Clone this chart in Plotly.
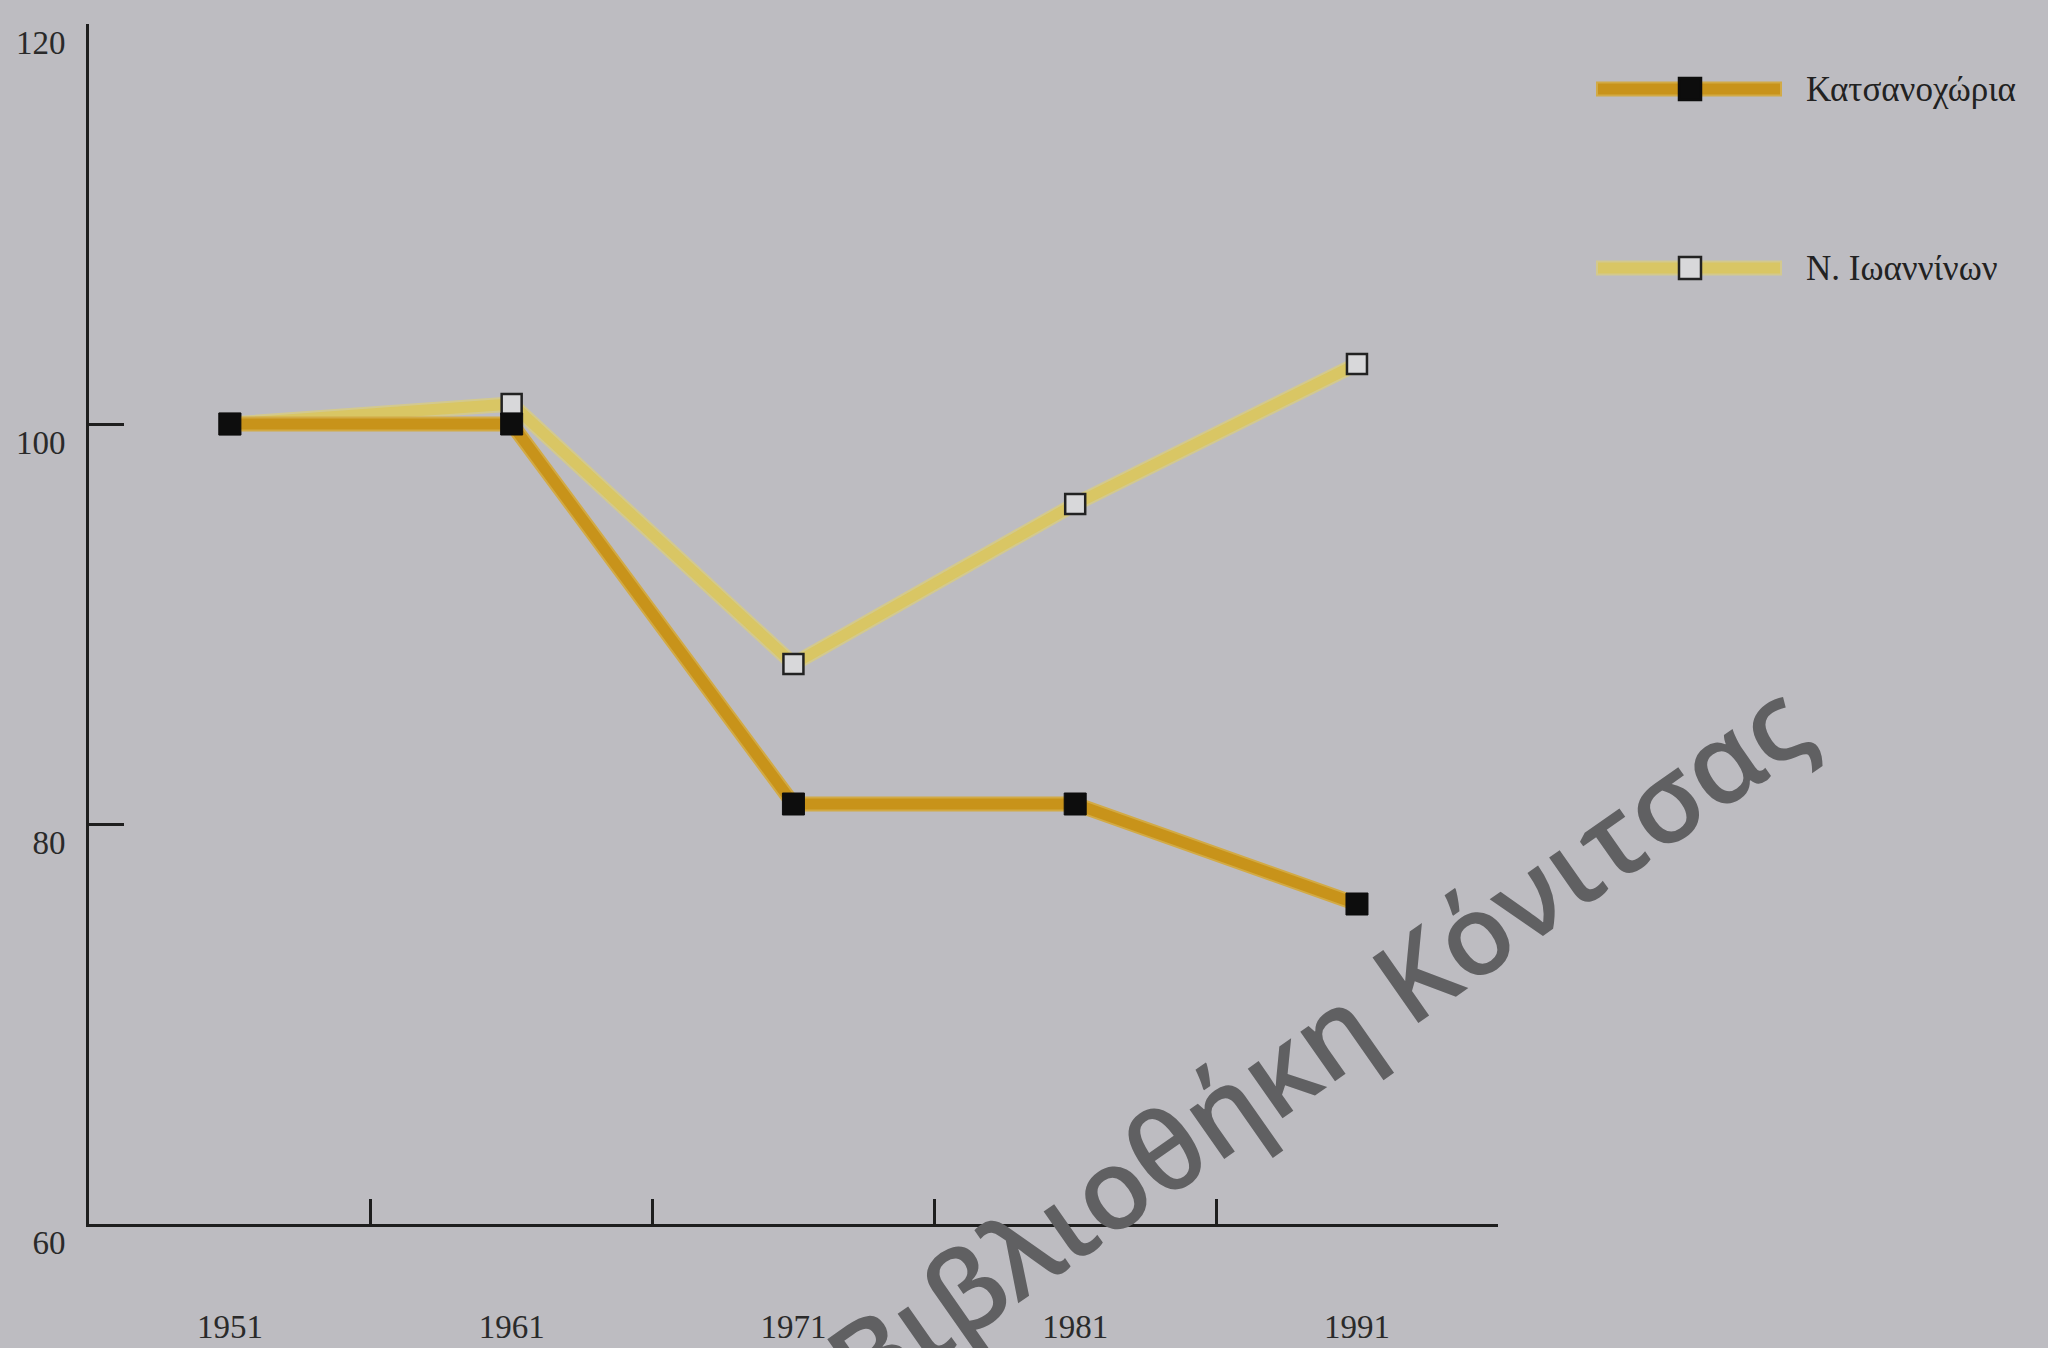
import plotly.graph_objects as go

years = ["1951", "1961", "1971", "1981", "1991"]
katsanochoria = [100, 100, 81, 81, 76]
ioanninon = [100, 101, 88, 96, 103]
y_ticks = [60, 80, 100, 120]
series_names = ["Κατσανοχώρια", "Ν. Ιωαννίνων"]
watermark = "Βιβλιοθήκη Κόνιτσας"

BG = "#bdbcc1"
DARK = "#c8931a"
DARK_EDGE = "#d2aa45"
LIGHT = "#d9c664"
LIGHT_EDGE = "#d3c98e"
AXIS = "#1e1e1e"
FONT = "Liberation Serif"
TXT = "#2a2a2a"

fig = go.Figure()

# Ν. Ιωαννίνων (drawn first, underneath)
fig.add_trace(go.Scatter(x=years, y=ioanninon, mode="lines",
                         line=dict(color=LIGHT_EDGE, width=15), showlegend=False, hoverinfo="skip"))
fig.add_trace(go.Scatter(x=years, y=ioanninon, mode="lines+markers", name=series_names[1],
                         line=dict(color=LIGHT, width=11),
                         marker=dict(symbol="square", size=20, color="#d8d8da",
                                     line=dict(color="#222", width=2.5)),
                         showlegend=False))
# Κατσανοχώρια
fig.add_trace(go.Scatter(x=years, y=katsanochoria, mode="lines",
                         line=dict(color=DARK_EDGE, width=15), showlegend=False, hoverinfo="skip"))
fig.add_trace(go.Scatter(x=years, y=katsanochoria, mode="lines+markers", name=series_names[0],
                         line=dict(color=DARK, width=11),
                         marker=dict(symbol="square", size=22, color="#0d0d0d",
                                     line=dict(color="#0d0d0d", width=1)),
                         showlegend=False))

# Manual legend (decoration) placed in paper coordinates
W, H = 2048, 1348
ml, mr, mt, mb = 89, 550, 24, 124
pw, ph = W - ml - mr, H - mt - mb

def px(x):
    return (x - ml) / pw

def py(y):
    return 1 - (y - mt) / ph

legend_items = [
    (series_names[0], 89, DARK, DARK_EDGE, "#0d0d0d", "#0d0d0d"),
    (series_names[1], 268, LIGHT, LIGHT_EDGE, "#d8d8da", "#222"),
]
shapes = []
annotations = []
for name, yy, col, edge, mfill, mline in legend_items:
    shapes.append(dict(type="line", xref="paper", yref="paper", x0=px(1596), x1=px(1782),
                       y0=py(yy), y1=py(yy), line=dict(color=edge, width=15), layer="above"))
    shapes.append(dict(type="line", xref="paper", yref="paper", x0=px(1598), x1=px(1780),
                       y0=py(yy), y1=py(yy), line=dict(color=col, width=11), layer="above"))
    shapes.append(dict(type="rect", xref="paper", yref="paper", x0=px(1679), x1=px(1701),
                       y0=py(yy + 11), y1=py(yy - 11), fillcolor=mfill,
                       line=dict(color=mline, width=2.5), layer="above"))
    annotations.append(dict(text=name, xref="paper", yref="paper", x=px(1804), y=py(yy),
                            xanchor="left", yanchor="middle", showarrow=False,
                            font=dict(family=FONT, size=35, color="#222")))

annotations.append(dict(text=watermark, xref="paper", yref="paper", x=px(1316), y=py(1041),
                        xanchor="center", yanchor="middle", showarrow=False, textangle=-35,
                        font=dict(family="Open Sans", size=112, weight=600, color="#606062")))

fig.update_layout(
    width=W, height=H,
    margin=dict(l=ml, r=mr, t=mt, b=mb, pad=0, autoexpand=False),
    paper_bgcolor=BG, plot_bgcolor=BG,
    showlegend=False,
    shapes=shapes, annotations=annotations,
    font=dict(family=FONT, color=TXT, size=33),
)
fig.update_xaxes(type="category", range=[-0.5, 4.5005], tickson="boundaries", automargin=False,
                 ticks="inside", ticklen=25, tickwidth=3, tickcolor=AXIS,
                 showline=True, linecolor=AXIS, linewidth=3, showgrid=False, zeroline=False,
                 ticklabelstandoff=71, tickfont=dict(family=FONT, size=33, color=TXT))
fig.update_yaxes(range=[60, 120], tickvals=y_ticks, ticktext=[str(v) for v in y_ticks],
                 automargin=False,
                 ticks="inside", ticklen=35, tickwidth=3, tickcolor=AXIS,
                 showline=True, linecolor=AXIS, linewidth=3, showgrid=False, zeroline=False,
                 ticklabelposition="outside bottom", ticklabelstandoff=14, ticklabelshift=-6,
                 tickfont=dict(family=FONT, size=33, color=TXT))

fig.write_html("out.html", config={"displayModeBar": False},
               post_script="document.body.style.margin='0';document.body.style.padding='0';"
                           "document.documentElement.style.background='" + BG + "';")
